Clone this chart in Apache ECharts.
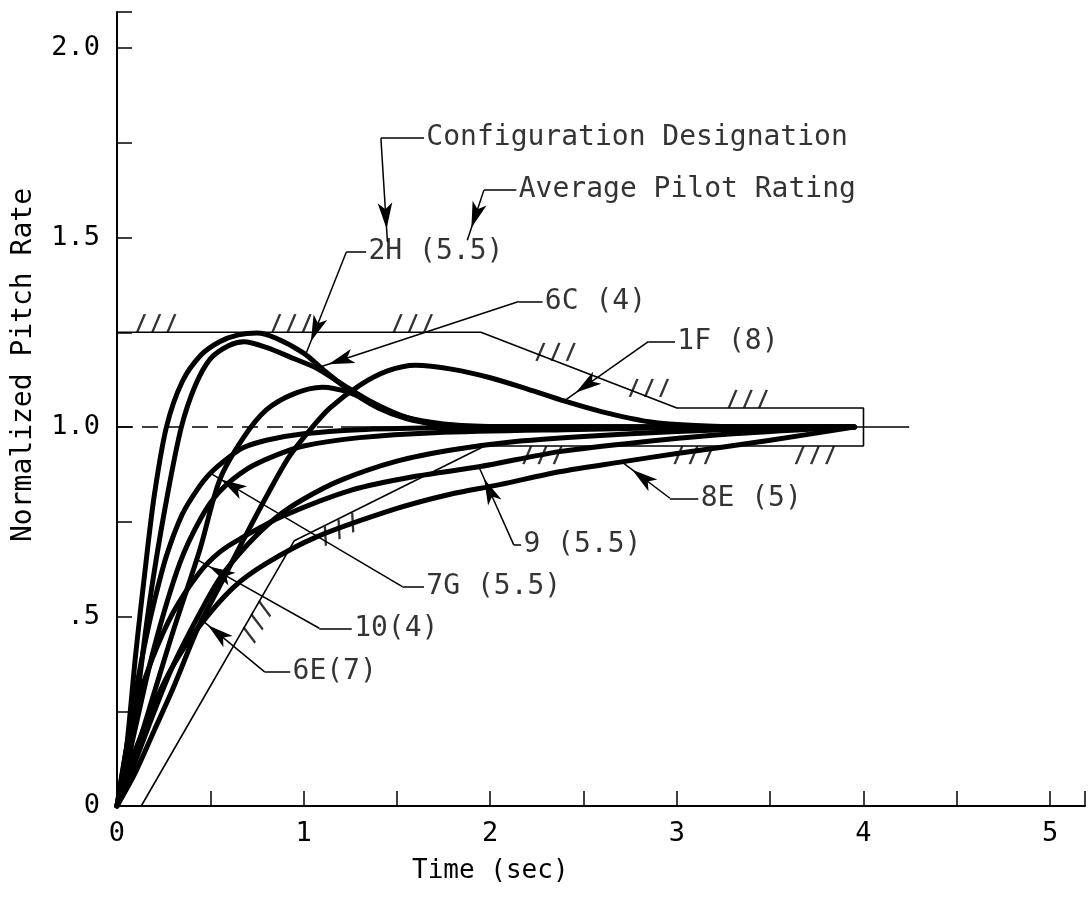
<!DOCTYPE html>
<html>
<head>
<meta charset="utf-8">
<script src="https://cdn.jsdelivr.net/npm/echarts@6/dist/echarts.min.js"></script>
<style>
  html, body { margin: 0; padding: 0; background: #fff; }
  #chart { width: 1088px; height: 903px; }
</style>
</head>
<body>
<div id="chart"></div>
<script>
// step responses: [time (sec), normalized pitch rate]
var curve2H = [[0,0],[0.05,0.15],[0.1,0.4],[0.15,0.62],[0.2,0.82],[0.265,1.0],[0.35,1.12],[0.45,1.19],[0.55,1.225],[0.65,1.243],[0.75,1.248],[0.85,1.235],[1.0,1.195],[1.12,1.145],[1.25,1.095],[1.4,1.05],[1.55,1.022],[1.7,1.008],[1.9,1.002],[2.2,1.0],[3.0,1.0],[3.95,1.0]]
var curve6C = [[0,0],[0.05,0.08],[0.1,0.25],[0.15,0.45],[0.2,0.62],[0.27,0.82],[0.345,1.0],[0.42,1.11],[0.5,1.18],[0.6,1.215],[0.68,1.225],[0.8,1.21],[0.95,1.18],[1.07,1.155],[1.2,1.115],[1.35,1.07],[1.5,1.035],[1.65,1.012],[1.8,1.003],[2.1,1.0],[3.95,1.0]]
var curve10 = [[0,0],[0.1,0.14],[0.2,0.3],[0.3,0.46],[0.443,0.675],[0.55,0.86],[0.675,0.97],[0.8,1.045],[0.95,1.088],[1.1,1.105],[1.25,1.09],[1.4,1.055],[1.55,1.025],[1.75,1.008],[2.0,1.001],[3.95,1.0]]
var curve1F = [[0,0],[0.1,0.09],[0.2,0.2],[0.3,0.31],[0.434,0.47],[0.55,0.58],[0.675,0.7],[0.8,0.816],[0.92,0.92],[1.03,0.99],[1.14,1.05],[1.3,1.11],[1.45,1.148],[1.6,1.163],[1.8,1.152],[2.0,1.13],[2.2,1.1],[2.4,1.068],[2.6,1.04],[2.85,1.014],[3.1,1.004],[3.5,1.0],[3.95,1.0]]
var curve7G = [[0,0],[0.05,0.15],[0.1,0.3],[0.15,0.43],[0.2,0.54],[0.265,0.66],[0.35,0.77],[0.43,0.835],[0.5,0.878],[0.6,0.92],[0.675,0.945],[0.8,0.965],[1.0,0.982],[1.3,0.993],[1.7,0.998],[2.2,1.0],[3.95,1.0]]
var curveX = [[0,0],[0.05,0.1],[0.1,0.21],[0.2,0.42],[0.336,0.64],[0.45,0.76],[0.55,0.83],[0.7,0.89],[0.85,0.925],[1.0,0.95],[1.3,0.972],[1.7,0.985],[2.4,0.993],[3.2,0.999],[3.95,1.0]]
var curve6E = [[0,0],[0.05,0.06],[0.1,0.12],[0.2,0.25],[0.3,0.37],[0.434,0.5],[0.55,0.6],[0.7,0.69],[0.85,0.76],[1.0,0.81],[1.2,0.86],[1.5,0.91],[1.8,0.94],[2.1,0.96],[2.5,0.975],[3.0,0.988],[3.5,0.996],[3.95,1.0]]
var curve9 = [[0,0],[0.05,0.15],[0.1,0.26],[0.19,0.39],[0.3,0.51],[0.44,0.615],[0.55,0.67],[0.66,0.705],[0.89,0.765],[1.26,0.834],[1.6,0.87],[1.94,0.895],[2.37,0.935],[2.8,0.96],[3.3,0.982],[3.95,1.0]]
var curve8E = [[0,0],[0.05,0.08],[0.1,0.15],[0.2,0.27],[0.3,0.37],[0.434,0.47],[0.62,0.575],[0.8,0.64],[1.07,0.71],[1.5,0.785],[1.78,0.822],[2.05,0.848],[2.37,0.882],[2.705,0.908],[3.0,0.93],[3.5,0.965],[3.95,1.0]]

// boundary of the response envelope
var envelope = [[0,1.25],[1.95,1.25],[3.0,1.05],[4.0,1.05],[4.0,0.95],[1.97,0.95],[0.95,0.70],[0.13,0]]
var refDashed = [[0,1],[1.2,1]]
var refSolid = [[1.2,1],[4.245,1]]

// axis texts
var xTitle = 'Time (sec)'
var yTitle = 'Normalized Pitch Rate'
var yTickText = {0: '0', 0.5: '.5', 1: '1.0', 1.5: '1.5', 2: '2.0'}

// callout texts
var noteText = ['Configuration Designation', 'Average Pilot Rating', '2H (5.5)', '6C (4)', '1F (8)',
  '8E (5)', '9 (5.5)', '7G (5.5)', '10(4)', '6E(7)']

// where each callout sits: text anchor, elbow, arrow tip (data coords)
var notePlace = [
  {at: [1.655, 1.762], elbow: [1.414, 1.762], tip: [1.449, 1.489]},
  {at: [2.150, 1.625], elbow: [1.966, 1.625], tip: [1.877, 1.493]},
  {at: [1.345, 1.462], elbow: [1.229, 1.462], tip: [1.013, 1.194]},
  {at: [2.290, 1.331], elbow: [2.153, 1.331], tip: [1.067, 1.155]},
  {at: [3.000, 1.225], elbow: [2.847, 1.225], tip: [2.402, 1.071]},
  {at: [3.125, 0.812], elbow: [2.963, 0.812], tip: [2.705, 0.908]},
  {at: [2.175, 0.689], elbow: [2.126, 0.689], tip: [1.939, 0.895]},
  {at: [1.655, 0.579], elbow: [1.529, 0.579], tip: [0.497, 0.879]},
  {at: [1.268, 0.469], elbow: [1.084, 0.469], tip: [0.434, 0.649]},
  {at: [0.938, 0.354], elbow: [0.791, 0.354], tip: [0.434, 0.499]}
]

// hatch groups on the envelope: x, y, rotation
var hatches = [
  [0.21,1.274,0],[0.935,1.274,0],[1.585,1.274,0],
  [2.35,1.198,0],[2.85,1.103,0],[3.38,1.074,0],
  [2.28,0.926,0],[3.09,0.926,0],[3.74,0.926,0],
  [1.19,0.73,26],[0.75,0.486,60]
]

var font = 'DejaVu Sans Mono'
var chart = echarts.init(document.getElementById('chart'))

function curve(data) {
  return {
    type: 'line', data: data, showSymbol: false, smooth: 0.3,
    lineStyle: {color: '#000', width: 5, cap: 'round', join: 'round'}, z: 3, silent: true
  }
}
function thin(data, dash) {
  return {
    type: 'line', data: data, showSymbol: false,
    lineStyle: {color: '#000', width: 1.6, type: dash ? [16, 9] : 'solid'}, z: 2, silent: true
  }
}

var leaders = []
notePlace.forEach(function (p) {
  leaders.push([{coord: p.elbow, symbol: 'none'}, {coord: [p.at[0] - 0.01, p.elbow[1]], symbol: 'none'}])
  leaders.push([{coord: p.elbow, symbol: 'none'},
    {coord: p.tip, symbol: 'arrow', symbolSize: [11, 26], symbolOffset: [0, 13]}])
})

var option = {
  backgroundColor: '#fff',
  animation: false,
  grid: {left: 117, right: 0, top: 12, bottom: 97},
  xAxis: {
    type: 'value', min: 0, max: 5.187, interval: 0.5,
    axisLine: {lineStyle: {color: '#000', width: 2}},
    axisTick: {inside: true, length: 15, lineStyle: {color: '#000', width: 1.5}},
    axisLabel: {
      margin: 14, color: '#000', fontFamily: font, fontSize: 27,
      formatter: function (v) { return Math.abs(v - Math.round(v)) < 1e-6 ? String(Math.round(v)) : '' }
    },
    splitLine: {show: false}
  },
  yAxis: {
    type: 'value', min: 0, max: 2.095, interval: 0.25,
    axisLine: {lineStyle: {color: '#000', width: 2}},
    axisTick: {inside: true, length: 15, lineStyle: {color: '#000', width: 1.5}},
    axisLabel: {
      margin: 17, color: '#000', fontFamily: font, fontSize: 27,
      formatter: function (v) { var k = Math.round(v * 100) / 100; return yTickText[k] !== undefined ? yTickText[k] : '' }
    },
    splitLine: {show: false}
  },
  graphic: [
    {type: 'text', left: 412, top: 858, style: {text: xTitle, font: '26px "' + font + '"', fill: '#000'}},
    {type: 'text', x: 24, y: 365, rotation: Math.PI / 2,
      style: {text: yTitle, font: '28px "' + font + '"', fill: '#000', align: 'center', verticalAlign: 'middle'}}
  ],
  series: [
    thin(envelope), thin(refDashed, true), thin(refSolid),
    curve(curve2H), curve(curve6C), curve(curve10), curve(curve1F), curve(curve7G),
    curve(curveX), curve(curve6E), curve(curve9), curve(curve8E),
    {
      type: 'scatter', silent: true, z: 2,
      symbol: 'path://M0,20L7,0M14,20L21,0M28,20L35,0', symbolSize: [38, 18],
      itemStyle: {color: 'none', borderColor: '#000', borderWidth: 1.7},
      data: hatches.map(function (h) { return {value: [h[0], h[1]], symbolRotate: h[2]} })
    },
    {
      type: 'scatter', silent: true, z: 5, symbolSize: 1,
      itemStyle: {color: 'rgba(0,0,0,0)'},
      label: {show: true, position: 'right', distance: 0, formatter: '{b}',
        color: '#000', fontFamily: font, fontSize: 28},
      data: noteText.map(function (t, i) { return {name: t, value: notePlace[i].at} }),
      markLine: {
        silent: true, animation: false,
        label: {show: false},
        lineStyle: {color: '#000', width: 1.5, type: 'solid'},
        symbol: ['none', 'none'],
        data: leaders
      }
    }
  ]
}
chart.setOption(option)
</script>
</body>
</html>
